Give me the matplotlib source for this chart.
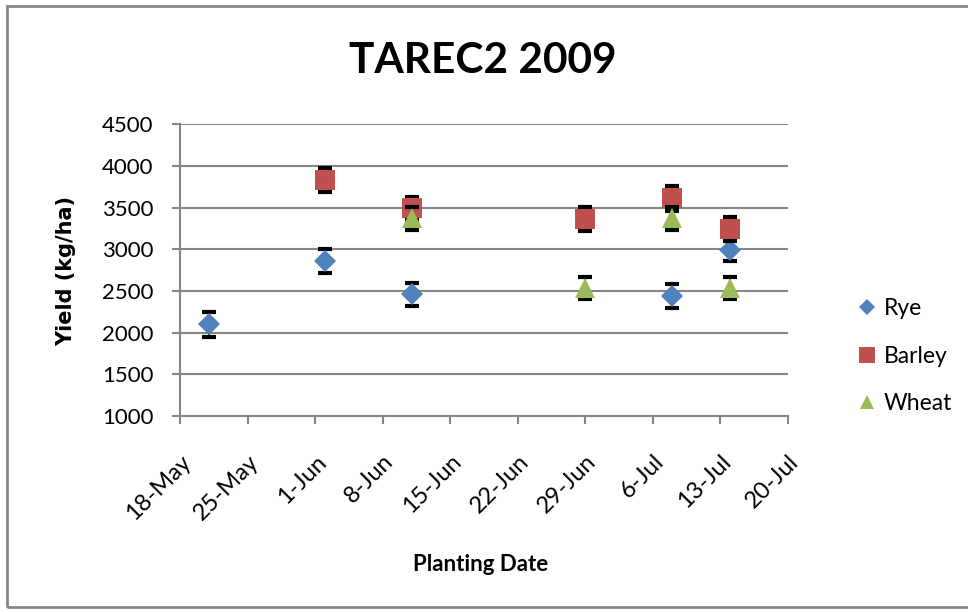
import numpy as np
import matplotlib
matplotlib.use("Agg")
import matplotlib.pyplot as plt
from matplotlib.patches import Rectangle
from datetime import datetime

plt.rcParams['font.family'] = ['Lato', 'DejaVu Sans']

# data
rye_dates = ["2009-05-21", "2009-06-02", "2009-06-11", "2009-07-08", "2009-07-14"]
rye_yield = [2100, 2860, 2460, 2440, 2990]
rye_err = [145, 145, 140, 140, 135]

barley_dates = ["2009-06-02", "2009-06-11", "2009-06-29", "2009-07-08", "2009-07-14"]
barley_yield = [3830, 3490, 3360, 3610, 3245]
barley_err = [145, 135, 145, 145, 140]

wheat_dates = ["2009-06-11", "2009-06-29", "2009-07-08", "2009-07-14"]
wheat_yield = [3370, 2535, 3370, 2535]
wheat_err = [140, 135, 140, 135]

tick_dates = ["2009-05-18", "2009-05-25", "2009-06-01", "2009-06-08", "2009-06-15",
              "2009-06-22", "2009-06-29", "2009-07-06", "2009-07-13", "2009-07-20"]
tick_labels = ["18-May", "25-May", "1-Jun", "8-Jun", "15-Jun",
               "22-Jun", "29-Jun", "6-Jul", "13-Jul", "20-Jul"]
y_ticks = [1000, 1500, 2000, 2500, 3000, 3500, 4000, 4500]


def to_dt(lst):
    return [datetime.strptime(d, "%Y-%m-%d") for d in lst]


fig = plt.figure(figsize=(9.68, 6.12), dpi=100)
fig.patches.append(Rectangle((0.007, 0.008), 1.1, 0.982, transform=fig.transFigure,
                             fill=False, edgecolor='#868686', linewidth=2))
ax = fig.add_axes([0.186, 0.32, 0.628, 0.477])

grid_c = '#868686'
for y in y_ticks:
    ax.axhline(y, color=grid_c, linewidth=1.5, zorder=1)

series = [
    (rye_dates, rye_yield, rye_err, 'D', 11, '#4F81BD', 'Rye'),
    (barley_dates, barley_yield, barley_err, 's', 15, '#C0504D', 'Barley'),
    (wheat_dates, wheat_yield, wheat_err, '^', 14, '#9BBB59', 'Wheat'),
]
handles = []
for i, (d, yv, e, m, ms, c, lab) in enumerate(series):
    ax.errorbar(to_dt(d), yv, yerr=e, fmt='none', ecolor='black', elinewidth=1.2,
                capsize=4.8, capthick=3, zorder=2 + i)
    h, = ax.plot(to_dt(d), yv, linestyle='none', marker=m, markersize=ms,
                 color=c, markeredgewidth=0, label=lab, zorder=2.5 + i)
    handles.append(h)

ax.set_ylim(1000, 4500)
ax.set_yticks(y_ticks)
ax.set_xlim(to_dt(tick_dates)[0], to_dt(tick_dates)[-1])
ax.set_xticks(to_dt(tick_dates))
ax.set_xticklabels(tick_labels, rotation=45, ha='right', rotation_mode='anchor')
ax.tick_params(axis='x', length=6, width=1.5, color=grid_c, labelsize=17, pad=19)
ax.tick_params(axis='y', length=6, width=1.5, color=grid_c, labelsize=16, pad=13)

for s in ['top', 'right']:
    ax.spines[s].set_visible(False)
for s in ['left', 'bottom']:
    ax.spines[s].set_color(grid_c)
    ax.spines[s].set_linewidth(1.5)
ax.set_facecolor('none')

fig.text(0.4985, 0.9, "TAREC2 2009", ha='center', va='center', fontsize=30.5,
         fontweight='bold')
fig.text(0.068, 0.558, "Yield (kg/ha)", ha='center', va='center', rotation=90,
         fontsize=15, fontweight='bold', family='DejaVu Sans')
fig.text(0.497, 0.078, "Planting Date", ha='center', va='center', fontsize=16,
         fontweight='bold')

leg = fig.legend(handles=handles, loc='center left', bbox_to_anchor=(0.876, 0.418),
                 frameon=False, fontsize=16.5, handlelength=0.7, handletextpad=0.35,
                 labelspacing=1.15, markerscale=0.75, borderpad=0)

fig.savefig("out.png", dpi=100)
